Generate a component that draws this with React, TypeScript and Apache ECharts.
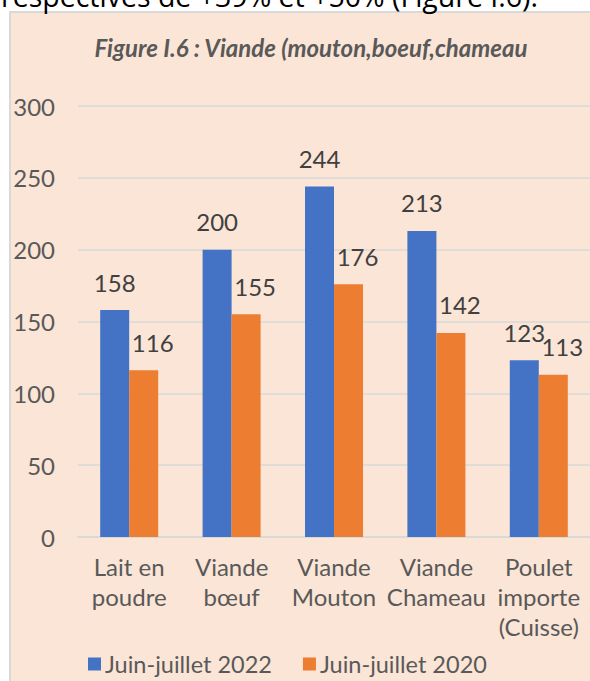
import React, { useEffect, useRef } from "react";
import * as echarts from "echarts";

const categories = ["Lait en\npoudre", "Viande\nbœuf", "Viande\nMouton", "Viande\nChameau", "Poulet\nimporte\n(Cuisse)"];
const values2022 = [158, 200, 244, 213, 123];
const values2020 = [116, 155, 176, 142, 113];
const seriesNames = ["Juin-juillet 2022", "Juin-juillet 2020"];
const yTicks = { min: 0, max: 300, interval: 50 };
const titleText = "Figure I.6 : Viande (mouton,boeuf,chameau";
const headText = "respectives de +39% et +50% (Figure I.6).";

export default function App() {
  const ref = useRef<HTMLDivElement>(null);
  useEffect(() => {
    if (!ref.current) return;
    const chart = echarts.init(ref.current, null, { renderer: "svg" });
    const font = "Lato";
    const labelStyle = {
      show: true,
      position: "top" as const,
      distance: 16,
      fontFamily: font,
      fontSize: 24,
      color: "#404040",
    };
    chart.setOption({
      animation: false,
      backgroundColor: "#ffffff",
      textStyle: { fontFamily: font },
      graphic: [
        {
          type: "rect",
          shape: { x: 10, y: 12, width: 600, height: 700 },
          style: { fill: "#FBE5D6", stroke: "#D9D9D9", lineWidth: 2 },
          z: -10,
        },
        {
          type: "text",
          x: 1,
          y: 10,
          style: {
            text: headText,
            font: "28.5px 'Open Sans'",
            fill: "#000000",
            verticalAlign: "bottom",
          },
        },
        {
          type: "text",
          x: 311,
          y: 47,
          style: {
            text: titleText,
            font: "italic bold 24px Lato",
            fill: "#595959",
            align: "center",
            verticalAlign: "middle",
          },
        },
      ],
      grid: { left: 78, right: 0, top: 106, bottom: 144, containLabel: false },
      legend: {
        data: seriesNames,
        left: 83,
        top: 647,
        itemWidth: 13,
        itemHeight: 13,
        itemGap: 31,
        icon: "rect",
        textStyle: { fontFamily: font, fontSize: 23.5, color: "#595959", padding: [0, 0, 0, -1] },
      },
      xAxis: {
        type: "category",
        data: categories,
        axisLine: { show: true, lineStyle: { color: "#D9D9D9", width: 2 } },
        axisTick: { show: false },
        axisLabel: {
          fontFamily: font,
          fontSize: 24,
          color: "#595959",
          lineHeight: 30,
          margin: 14,
          interval: 0,
        },
      },
      yAxis: {
        type: "value",
        min: yTicks.min,
        max: yTicks.max,
        interval: yTicks.interval,
        axisLine: { show: false },
        axisTick: { show: false },
        splitLine: { lineStyle: { color: "#D9D9D9", width: 1.5 } },
        axisLabel: { fontFamily: font, fontSize: 24, color: "#595959", margin: 23 },
      },
      series: [
        {
          name: seriesNames[0],
          type: "bar",
          data: values2022,
          barWidth: 29,
          barGap: "0%",
          itemStyle: { color: "#4472C4" },
          label: labelStyle,
        },
        {
          name: seriesNames[1],
          type: "bar",
          data: values2020,
          barWidth: 29,
          barGap: "0%",
          itemStyle: { color: "#ED7D31" },
          label: { ...labelStyle, offset: [9, 0] },
        },
      ],
    });
    return () => chart.dispose();
  }, []);
  return (
    <div
      ref={ref}
      style={{ position: "absolute", left: 0, top: 0, width: 590, height: 681 }}
    />
  );
}
